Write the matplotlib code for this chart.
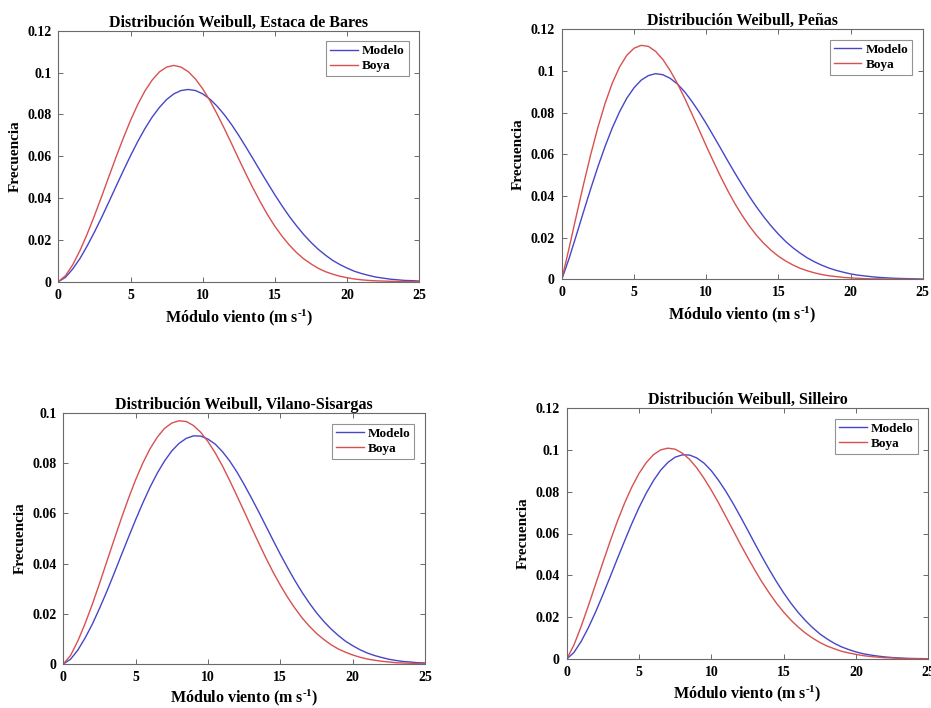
import numpy as np
import matplotlib
matplotlib.use('Agg')
import matplotlib.pyplot as plt
from matplotlib.ticker import FuncFormatter

# ---------------- data ----------------
wind = np.arange(0, 25.01, 0.5)  # Módulo viento (m s-1)

titles = ["Distribución Weibull, Estaca de Bares",
          "Distribución Weibull, Peñas",
          "Distribución Weibull, Vilano-Sisargas",
          "Distribución Weibull, Silleiro"]
series_names = ["Modelo", "Boya"]

estaca_modelo = [0.0000, 0.0021, 0.0061, 0.0111, 0.0171, 0.0237, 0.0307, 0.0381, 0.0456, 0.0530, 0.0602, 0.0670, 0.0732, 0.0787, 0.0833, 0.0871, 0.0898,
                 0.0914, 0.0919, 0.0914, 0.0898, 0.0873, 0.0839, 0.0798, 0.0751, 0.0699, 0.0643, 0.0586, 0.0528, 0.0471, 0.0415, 0.0362, 0.0312, 0.0267,
                 0.0225, 0.0188, 0.0155, 0.0127, 0.0102, 0.0082, 0.0065, 0.0050, 0.0039, 0.0030, 0.0022, 0.0017, 0.0012, 0.0009, 0.0006, 0.0005, 0.0003]
estaca_boya = [0.0000, 0.0029, 0.0081, 0.0149, 0.0228, 0.0315, 0.0407, 0.0502, 0.0596, 0.0686, 0.0771, 0.0847, 0.0912, 0.0964, 0.1003, 0.1026, 0.1034,
               0.1026, 0.1004, 0.0969, 0.0922, 0.0866, 0.0801, 0.0732, 0.0660, 0.0586, 0.0514, 0.0445, 0.0380, 0.0319, 0.0265, 0.0217, 0.0175, 0.0139,
               0.0109, 0.0085, 0.0064, 0.0048, 0.0036, 0.0026, 0.0019, 0.0013, 0.0009, 0.0006, 0.0004, 0.0003, 0.0002, 0.0001, 0.0001, 0.0000, 0.0000]

penas_modelo = [0.0000, 0.0099, 0.0210, 0.0323, 0.0434, 0.0540, 0.0638, 0.0727, 0.0804, 0.0869, 0.0919, 0.0956, 0.0978, 0.0987, 0.0982, 0.0965, 0.0938,
                0.0901, 0.0855, 0.0804, 0.0748, 0.0689, 0.0629, 0.0568, 0.0509, 0.0452, 0.0397, 0.0346, 0.0299, 0.0256, 0.0217, 0.0182, 0.0152, 0.0126,
                0.0103, 0.0084, 0.0068, 0.0054, 0.0043, 0.0034, 0.0026, 0.0020, 0.0016, 0.0012, 0.0009, 0.0007, 0.0005, 0.0004, 0.0003, 0.0002, 0.0001]
penas_boya = [0.0000, 0.0148, 0.0303, 0.0454, 0.0598, 0.0729, 0.0845, 0.0942, 0.1019, 0.1075, 0.1109, 0.1123, 0.1118, 0.1094, 0.1055, 0.1003, 0.0941,
              0.0871, 0.0796, 0.0719, 0.0641, 0.0566, 0.0493, 0.0425, 0.0362, 0.0306, 0.0255, 0.0210, 0.0172, 0.0139, 0.0111, 0.0088, 0.0069, 0.0053,
              0.0041, 0.0031, 0.0023, 0.0017, 0.0013, 0.0009, 0.0007, 0.0005, 0.0003, 0.0002, 0.0002, 0.0001, 0.0001, 0.0001, 0.0000, 0.0000, 0.0000]

vilano_modelo = [0.0000, 0.0019, 0.0055, 0.0103, 0.0158, 0.0221, 0.0288, 0.0359, 0.0432, 0.0504, 0.0575, 0.0642, 0.0705, 0.0761, 0.0809, 0.0849, 0.0879,
                 0.0899, 0.0909, 0.0908, 0.0896, 0.0876, 0.0846, 0.0809, 0.0765, 0.0715, 0.0662, 0.0607, 0.0550, 0.0493, 0.0437, 0.0384, 0.0333, 0.0286,
                 0.0243, 0.0204, 0.0170, 0.0140, 0.0114, 0.0091, 0.0073, 0.0057, 0.0044, 0.0034, 0.0026, 0.0019, 0.0014, 0.0010, 0.0008, 0.0005, 0.0004]
vilano_boya = [0.0000, 0.0034, 0.0091, 0.0160, 0.0237, 0.0320, 0.0407, 0.0493, 0.0578, 0.0659, 0.0734, 0.0801, 0.0858, 0.0904, 0.0939, 0.0960, 0.0969,
               0.0966, 0.0950, 0.0923, 0.0886, 0.0841, 0.0789, 0.0731, 0.0670, 0.0608, 0.0545, 0.0483, 0.0423, 0.0366, 0.0314, 0.0266, 0.0223, 0.0184,
               0.0151, 0.0122, 0.0098, 0.0077, 0.0060, 0.0047, 0.0036, 0.0027, 0.0020, 0.0015, 0.0011, 0.0008, 0.0005, 0.0004, 0.0003, 0.0002, 0.0001]

silleiro_modelo = [0.0000, 0.0031, 0.0084, 0.0150, 0.0225, 0.0307, 0.0392, 0.0479, 0.0564, 0.0647, 0.0724, 0.0793, 0.0853, 0.0903, 0.0940, 0.0965, 0.0976,
                   0.0975, 0.0961, 0.0936, 0.0900, 0.0854, 0.0802, 0.0744, 0.0682, 0.0618, 0.0553, 0.0489, 0.0428, 0.0370, 0.0316, 0.0267, 0.0223, 0.0184,
                   0.0150, 0.0120, 0.0096, 0.0075, 0.0058, 0.0045, 0.0034, 0.0025, 0.0019, 0.0014, 0.0010, 0.0007, 0.0005, 0.0003, 0.0002, 0.0002, 0.0001]
silleiro_boya = [0.0000, 0.0067, 0.0156, 0.0255, 0.0358, 0.0461, 0.0562, 0.0658, 0.0745, 0.0822, 0.0887, 0.0939, 0.0977, 0.1000, 0.1008, 0.1003, 0.0984,
                 0.0954, 0.0913, 0.0863, 0.0807, 0.0746, 0.0681, 0.0616, 0.0550, 0.0487, 0.0426, 0.0368, 0.0316, 0.0267, 0.0224, 0.0186, 0.0153, 0.0124,
                 0.0100, 0.0079, 0.0062, 0.0049, 0.0037, 0.0029, 0.0022, 0.0016, 0.0012, 0.0009, 0.0006, 0.0005, 0.0003, 0.0002, 0.0002, 0.0001, 0.0001]

modelo_series = [estaca_modelo, penas_modelo, vilano_modelo, silleiro_modelo]
boya_series = [estaca_boya, penas_boya, vilano_boya, silleiro_boya]
y_max = [0.12, 0.12, 0.1, 0.12]
x_ticks = [0, 5, 10, 15, 20, 25]

# ---------------- style ----------------
plt.rcParams['font.family'] = ['Liberation Serif', 'DejaVu Serif']
plt.rcParams['font.weight'] = 'bold'
plt.rcParams['mathtext.fontset'] = 'custom'
plt.rcParams['mathtext.rm'] = 'Liberation Serif:bold'
plt.rcParams['mathtext.bf'] = 'Liberation Serif:bold'
plt.rcParams['mathtext.it'] = 'Liberation Serif:bold'

W, H = 931, 708
fig = plt.figure(figsize=(W / 100, H / 100), dpi=100)

# axes boxes in pixels: left, top, right, bottom
boxes = [(58.3, 30.7, 419.3, 281.7),
         (561.8, 29.3, 922.7, 279.3),
         (63.3, 413.0, 425.0, 664.0),
         (566.7, 408.0, 928.3, 659.0)]
xlabel_pads = [4, 4, 2.5, 3]

blue = '#4646c8'
red = '#d85050'
spine_col = '#6a6a6a'

fmt = FuncFormatter(lambda v, p: ('%g' % round(v, 4)))

for i, (l, t, r, b) in enumerate(boxes):
    ax = fig.add_axes([l / W, 1 - b / H, (r - l) / W, (b - t) / H])
    ax.plot(wind, modelo_series[i], color=blue, lw=1.0, label=series_names[0])
    ax.plot(wind, boya_series[i], color=red, lw=1.0, label=series_names[1])
    ax.set_xlim(0, 25)
    ax.set_ylim(0, y_max[i])
    ax.set_xticks(x_ticks)
    ax.set_yticks(np.arange(0, y_max[i] + 1e-9, 0.02))
    ax.yaxis.set_major_formatter(fmt)
    ax.xaxis.set_major_formatter(fmt)
    ax.tick_params(direction='in', top=True, right=True, length=3.5, width=0.7,
                   color=spine_col, labelsize=10, pad=5)
    for lab in ax.get_xticklabels() + ax.get_yticklabels():
        lab.set_fontweight('bold')
    for sp in ax.spines.values():
        sp.set_color(spine_col)
        sp.set_linewidth(0.8)
    ax.set_title(titles[i], fontsize=11.5, fontweight='bold', pad=3)
    ax.set_xlabel('Módulo viento (m s$^{\\text{-}1}$)', fontsize=11.5, fontweight='bold',
                  labelpad=xlabel_pads[i])
    ax.set_ylabel('Frecuencia', fontsize=11, fontweight='bold', labelpad=4)
    leg = ax.legend(loc='upper right', fontsize=9.5, frameon=True, fancybox=False,
                    handlelength=2.1, handletextpad=0.3, labelspacing=0.2,
                    borderpad=0.3, borderaxespad=0.8)
    leg.get_frame().set_edgecolor('#777777')
    leg.get_frame().set_linewidth(0.8)
    for txt in leg.get_texts():
        txt.set_fontweight('bold')

fig.savefig('out.png', dpi=100)
